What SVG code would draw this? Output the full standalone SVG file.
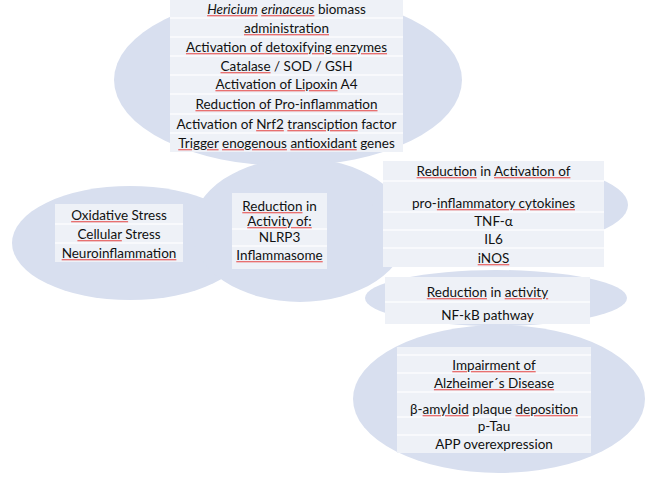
<svg xmlns="http://www.w3.org/2000/svg" width="650" height="477" viewBox="0 0 650 477">
<style>
.ell{fill:#d8dfef}
.box{fill:#eef1f7}
.sep{stroke:#fbfcfe;stroke-width:1.5;fill:none}
text{font-family:Lato,"Liberation Sans",sans-serif;font-size:13.5px;fill:#111;text-anchor:middle}
.sp{fill:#e87070;text-decoration:underline;text-decoration-thickness:1px}
.sp tspan{fill:#111}
.it{font-style:italic}
</style>
<rect width="650" height="477" fill="#ffffff"/>
<g id="ellipses">
<ellipse class="ell" cx="288" cy="80" rx="174" ry="86"/>
<ellipse class="ell" cx="130" cy="243" rx="118" ry="57"/>
<ellipse class="ell" cx="300" cy="230" rx="108" ry="72"/>
<ellipse class="ell" cx="500" cy="205" rx="128" ry="42"/>
<ellipse class="ell" cx="496" cy="298" rx="131" ry="28"/>
<ellipse class="ell" cx="499" cy="399" rx="146" ry="74"/>
</g>
<g id="connectors"></g>
<g id="node-hericium">
<rect class="box" x="170" y="0" width="233" height="152"/>
<path class="sep" d="M170 18H403M170 37H403M170 56H403M170 75H403M170 94H403M170 114H403M170 133H403"/>
<text x="286.5" y="14"><tspan class="it sp"><tspan>Hericium</tspan></tspan> <tspan class="it sp"><tspan>erinaceus</tspan></tspan> biomass</text>
<text x="286.5" y="33"><tspan class="sp"><tspan>administration</tspan></tspan></text>
<text x="286.5" y="52"><tspan class="sp"><tspan>Activation of detoxifying enzymes</tspan></tspan></text>
<text x="286.5" y="71"><tspan class="sp"><tspan>Catalase</tspan></tspan> / SOD / GSH</text>
<text x="286.5" y="89"><tspan class="sp"><tspan>Activation of Lipoxin</tspan></tspan> A4</text>
<text x="286.5" y="109"><tspan class="sp"><tspan>Reduction of Pro-inflammation</tspan></tspan></text>
<text x="286.5" y="129">Activation of <tspan class="sp"><tspan>Nrf2</tspan></tspan> <tspan class="sp"><tspan>transciption</tspan></tspan> factor</text>
<text x="286.5" y="148"><tspan class="sp"><tspan>Trigger</tspan></tspan> <tspan class="sp"><tspan>enogenous</tspan></tspan> <tspan class="sp"><tspan>antioxidant</tspan></tspan> genes</text>
</g>
<g id="node-stress">
<rect class="box" x="55" y="204" width="128" height="58"/>
<path class="sep" d="M55 224H183M55 243H183"/>
<text x="119" y="220"><tspan class="sp"><tspan>Oxidative</tspan></tspan> Stress</text>
<text x="119" y="239"><tspan class="sp"><tspan>Cellular</tspan></tspan> Stress</text>
<text x="119" y="258"><tspan class="sp"><tspan>Neuroinflammation</tspan></tspan></text>
</g>
<g id="node-nlrp3">
<rect class="box" x="232" y="193" width="95" height="76"/>
<path class="sep" d="M232 229H327M232 246H327"/>
<text x="279.5" y="211"><tspan class="sp"><tspan>Reduction</tspan></tspan> in</text>
<text x="279.5" y="226"><tspan class="sp"><tspan>Activity of:</tspan></tspan></text>
<text x="279.5" y="242">NLRP3</text>
<text x="279.5" y="260"><tspan class="sp"><tspan>Inflammasome</tspan></tspan></text>
</g>
<g id="node-cytokines">
<rect class="box" x="383" y="161" width="221" height="106"/>
<path class="sep" d="M383 181H604M383 212H604M383 230H604M383 248H604"/>
<text x="493.5" y="176"><tspan class="sp"><tspan>Reduction</tspan></tspan> in <tspan class="sp"><tspan>Activation of</tspan></tspan></text>
<text x="493.5" y="208">pro-<tspan class="sp"><tspan>inflammatory cytokines</tspan></tspan></text>
<text x="493.5" y="226">TNF-α</text>
<text x="493.5" y="244">IL6</text>
<text x="493.5" y="263"><tspan class="sp"><tspan>iNOS</tspan></tspan></text>
</g>
<g id="node-nfkb">
<rect class="box" x="385" y="277" width="205" height="47"/>
<path class="sep" d="M385 302H590"/>
<text x="487.5" y="297"><tspan class="sp"><tspan>Reduction</tspan></tspan> in <tspan class="sp"><tspan>activity</tspan></tspan></text>
<text x="487.5" y="320">NF-kB pathway</text>
</g>
<g id="node-alzheimer">
<rect class="box" x="397" y="347" width="194" height="106"/>
<path class="sep" d="M397 355H591M397 373H591M397 392H591M397 417H591M397 435H591"/>
<text x="494" y="370"><tspan class="sp"><tspan>Impairment of</tspan></tspan></text>
<text x="494" y="388"><tspan class="sp"><tspan>Alzheimer´s Disease</tspan></tspan></text>
<text x="494" y="414">β-<tspan class="sp"><tspan>amyloid</tspan></tspan> plaque <tspan class="sp"><tspan>deposition</tspan></tspan></text>
<text x="494" y="431">p-Tau</text>
<text x="494" y="449">APP overexpression</text>
</g>
</svg>
